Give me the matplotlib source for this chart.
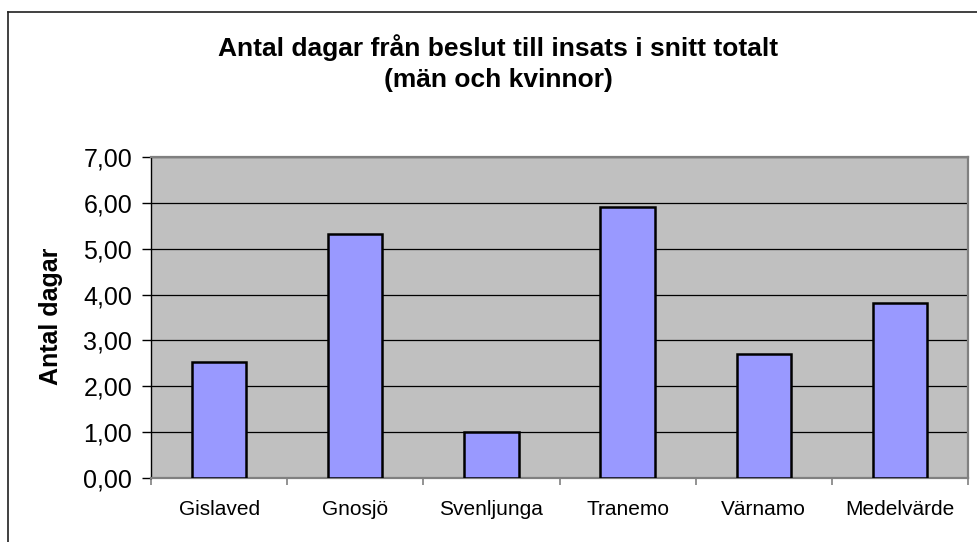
import numpy as np
import matplotlib
matplotlib.use('Agg')
import matplotlib.pyplot as plt
from matplotlib.lines import Line2D

plt.rcParams['font.family'] = ['Liberation Sans', 'DejaVu Sans']

# data
kommuner = ['Gislaved', 'Gnosjö', 'Svenljunga', 'Tranemo', 'Värnamo', 'Medelvärde']
dagar = [2.52, 5.31, 1.00, 5.92, 2.71, 3.82]
ytick_values = [0, 1, 2, 3, 4, 5, 6, 7]
ytick_labels = ['0,00', '1,00', '2,00', '3,00', '4,00', '5,00', '6,00', '7,00']

W, H = 977, 542
fig = plt.figure(figsize=(W / 100, H / 100), dpi=100)
fig.patch.set_facecolor('white')

# plot area in pixels: left 151, right 968, top 157, bottom 478
ax = fig.add_axes([151 / W, 1 - 478 / H, (968 - 151) / W, (478 - 157) / H])
ax.set_facecolor('#C0C0C0')

x = np.arange(len(kommuner))
ax.bar(x, dagar, width=0.4, color='#9999FF', edgecolor='black', linewidth=1.8, zorder=3)

ax.set_xlim(-0.5, len(kommuner) - 0.5)
ax.set_ylim(0, 7)
ax.set_yticks(ytick_values)
ax.set_yticklabels(ytick_labels, fontsize=18)
ax.yaxis.grid(True, color='black', linewidth=0.9, zorder=1)
ax.set_axisbelow(True)

ax.set_xticks(x)
ax.set_xticklabels(kommuner, fontsize=15)
ax.set_xticks(np.arange(-0.5, len(kommuner), 1.0), minor=True)
ax.tick_params(axis='x', which='major', length=0, pad=16)
ax.tick_params(axis='x', which='minor', length=5, width=1.2, color='#808080')
ax.tick_params(axis='y', length=6.5, width=1, color='black', pad=7)

for s in ['top', 'right', 'bottom']:
    ax.spines[s].set_color('#808080')
    ax.spines[s].set_linewidth(1.6)
ax.spines['left'].set_color('black')
ax.spines['left'].set_linewidth(1.0)

ax.set_ylabel('Antal dagar', fontsize=18, fontweight='bold')
ax.yaxis.set_label_coords(-0.108, 0.504)

fig.text(498 / W, 1 - 63 / H, 'Antal dagar från beslut till insats i snitt totalt\n(män och kvinnor)',
         ha='center', va='center', fontsize=19, fontweight='bold', linespacing=1.4)

# outer chart border (right and bottom fall outside the image)
fig.add_artist(Line2D([8 / W, 1.0], [1 - 12 / H, 1 - 12 / H], color='#202020', linewidth=1.2,
                      transform=fig.transFigure))
fig.add_artist(Line2D([8 / W, 8 / W], [0.0, 1 - 12 / H], color='#202020', linewidth=1.2,
                      transform=fig.transFigure))

fig.savefig('out.png', dpi=100)
